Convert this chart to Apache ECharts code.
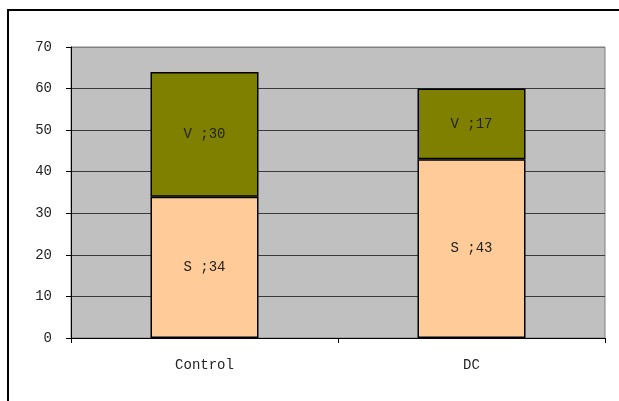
<!DOCTYPE html>
<html><head><meta charset="utf-8">
<script src="https://cdn.jsdelivr.net/npm/echarts@6/dist/echarts.min.js"></script>
<style>html,body{margin:0;padding:0;background:#fff}#c{width:619px;height:401px}</style>
</head><body><div id="c"></div>
<script>
const categories = ['Control', 'DC'];
const sValues = [34, 43];
const vValues = [30, 17];
const yTicks = [0, 10, 20, 30, 40, 50, 60, 70];

const chart = echarts.init(document.getElementById('c'));
const mono = '"Liberation Mono", "DejaVu Sans Mono", monospace';
chart.setOption({
  animation: false,
  backgroundColor: '#fff',
  graphic: [{
    type: 'rect', z: 100, silent: true,
    shape: { x: 8, y: 10, width: 800, height: 600 },
    style: { fill: 'none', stroke: '#000', lineWidth: 2 }
  }],
  grid: { left: 71, right: 14, top: 47, bottom: 63, show: true,
          backgroundColor: '#C0C0C0', borderColor: '#808080', borderWidth: 1 },
  xAxis: {
    type: 'category', data: categories,
    axisLine: { lineStyle: { color: '#000', width: 1 } },
    axisTick: { show: true, length: 5, lineStyle: { color: '#000' } },
    axisLabel: { color: '#222', fontFamily: mono, fontSize: 14, margin: 20 }
  },
  yAxis: {
    type: 'value', min: yTicks[0], max: yTicks[yTicks.length - 1], interval: 10,
    axisLine: { show: true, lineStyle: { color: '#000', width: 1 } },
    axisTick: { show: true, length: 5, lineStyle: { color: '#000' } },
    axisLabel: { color: '#222', fontFamily: mono, fontSize: 14, margin: 19 },
    splitLine: { lineStyle: { color: ['#3a3a3a','#3a3a3a','#3a3a3a','#3a3a3a','#3a3a3a','#3a3a3a','#3a3a3a','#808080'], width: 1 } }
  },
  series: [
    { name: 'S', type: 'bar', stack: 'a', data: sValues, barWidth: 108,
      itemStyle: { color: '#FFCC99', borderColor: '#000', borderWidth: 1.5 },
      label: { show: true, position: 'inside', color: '#222', fontFamily: mono, fontSize: 14,
               formatter: p => 'S ;' + p.value } },
    { name: 'V', type: 'bar', stack: 'a', data: vValues, barWidth: 108,
      itemStyle: { color: '#808000', borderColor: '#000', borderWidth: 1.5 },
      label: { show: true, position: 'inside', color: '#222', fontFamily: mono, fontSize: 14,
               formatter: p => 'V ;' + p.value } }
  ]
});
</script></body></html>
